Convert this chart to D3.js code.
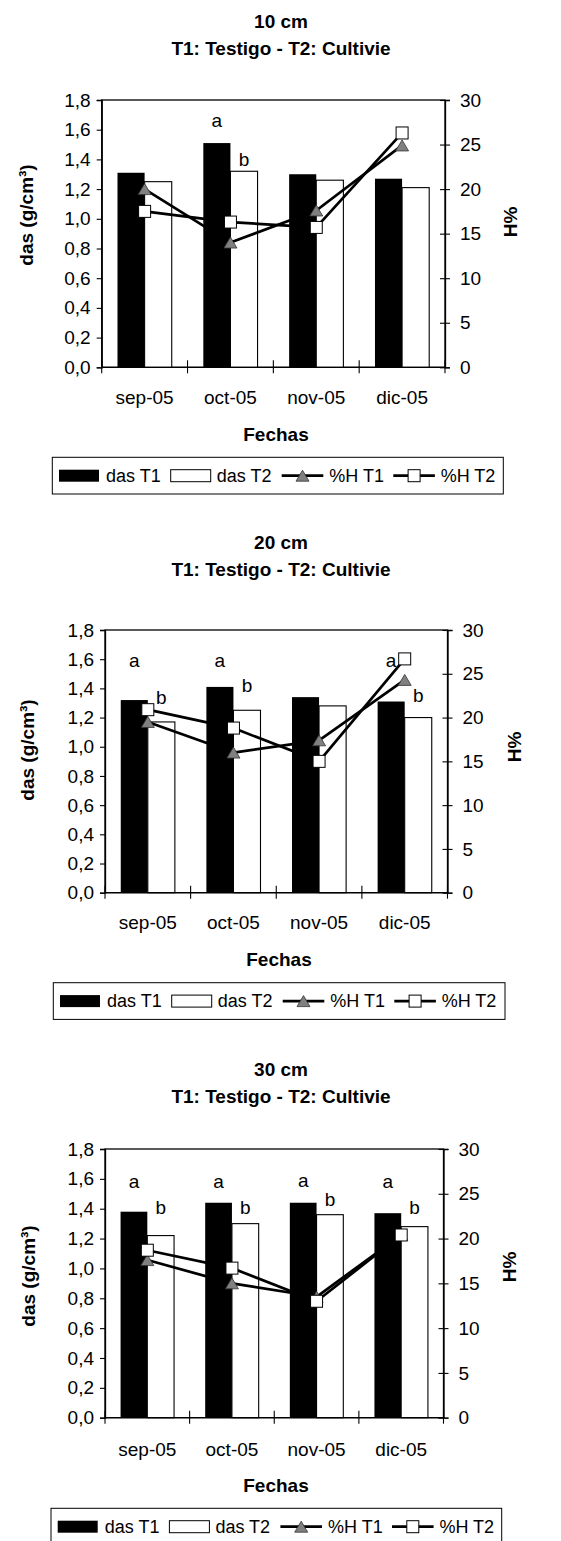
<!DOCTYPE html>
<html><head><meta charset="utf-8">
<script src="https://cdn.jsdelivr.net/npm/d3@7"></script>
<style>
body{margin:0;background:#fff}
svg{display:block}
text{font-family:"Liberation Sans",Arial,sans-serif;fill:#000}
</style>
</head><body>
<svg id="c" width="561" height="1541"></svg>
<script>
// ---------- data ----------
const categories = ["sep-05","oct-05","nov-05","dic-05"];
const seriesNames = ["das T1","das T2","%H T1","%H T2"];
const leftTicks = [0,0.2,0.4,0.6,0.8,1.0,1.2,1.4,1.6,1.8];
const rightTicks = [0,5,10,15,20,25,30];
const titles = ["10 cm","20 cm","30 cm"];
const subtitle = "T1: Testigo - T2: Cultivie";
const xTitle = "Fechas";
const yTitle = "das (g/cm³)";
const y2Title = "H%";

const dasT1_10 = [1.31,1.51,1.30,1.27];
const dasT2_10 = [1.25,1.32,1.26,1.21];
const hT1_10   = [20.0,14.0,17.6,24.9];
const hT2_10   = [17.5,16.3,15.7,26.3];
const letters_10 = [
  {cat:"oct-05", s:0, t:"a", lv:1.66},
  {cat:"oct-05", s:1, t:"b", lv:1.40}
];

const dasT1_20 = [1.32,1.41,1.34,1.31];
const dasT2_20 = [1.17,1.25,1.28,1.20];
const hT1_20   = [19.5,16.0,17.4,24.3];
const hT2_20   = [20.9,18.8,15.0,26.7];
const letters_20 = [
  {cat:"sep-05", s:0, t:"a", lv:1.59},{cat:"sep-05", s:1, t:"b", lv:1.34},
  {cat:"oct-05", s:0, t:"a", lv:1.59},{cat:"oct-05", s:1, t:"b", lv:1.42},
  {cat:"dic-05", s:0, t:"a", lv:1.59},{cat:"dic-05", s:1, t:"b", lv:1.35}
];

const dasT1_30 = [1.38,1.44,1.44,1.37];
const dasT2_30 = [1.22,1.30,1.36,1.28];
const hT1_30   = [17.6,15.0,13.5,20.4];
const hT2_30   = [18.7,16.7,13.0,20.4];
const letters_30 = [
  {cat:"sep-05", s:0, t:"a", lv:1.58},{cat:"sep-05", s:1, t:"b", lv:1.41},
  {cat:"oct-05", s:0, t:"a", lv:1.58},{cat:"oct-05", s:1, t:"b", lv:1.41},
  {cat:"nov-05", s:0, t:"a", lv:1.59},{cat:"nov-05", s:1, t:"b", lv:1.46},
  {cat:"dic-05", s:0, t:"a", lv:1.58},{cat:"dic-05", s:1, t:"b", lv:1.41}
];

// ---------- layout ----------
const layout = [
  {L:101.7,R:445,T:100,B:367.3, titleY:21, subY:48, catY:397.7, fechasX:276, fechasY:434.3,
   legX:52.3, legY:457.3, legW:451, yTX:26, yTY:215, y2TX:510, y2TY:222},
  {L:105,R:447.5,T:630,B:892.7, titleY:542.7, subY:569.3, catY:922.7, fechasX:279, fechasY:959.3,
   legX:53.3, legY:982.7, legW:451.7, yTX:27.5, yTY:750, y2TX:514, y2TY:747},
  {L:105,R:443.5,T:1149,B:1417.7, titleY:1069.3, subY:1096, catY:1449, fechasX:276, fechasY:1485,
   legX:51, legY:1508.3, legW:450.7, yTX:28, yTY:1276, y2TX:509.5, y2TY:1267}
];
const panelData = [
  {bars:[dasT1_10,dasT2_10], lines:[hT1_10,hT2_10], letters:letters_10},
  {bars:[dasT1_20,dasT2_20], lines:[hT1_20,hT2_20], letters:letters_20},
  {bars:[dasT1_30,dasT2_30], lines:[hT1_30,hT2_30], letters:letters_30}
];

const svg = d3.select("#c");
const fmt = d => d3.format(".1f")(d).replace(".", ",");
const triPath = "M0,-6L6.5,5L-6.5,5Z";
const triFill = "#808080";
const FS = 19;

function marker(g, type, x, y){
  if(type===0){
    g.append("path").attr("d",triPath).attr("transform",`translate(${x},${y+0.5})`)
      .attr("fill",triFill).attr("stroke","#333").attr("stroke-width",0.8);
  } else {
    g.append("rect").attr("x",x-6).attr("y",y-6).attr("width",12).attr("height",12)
      .attr("fill","#fff").attr("stroke","#000").attr("stroke-width",1);
  }
}

layout.forEach((lo, pi) => {
  const pd = panelData[pi];
  const g = svg.append("g");
  const x = d3.scaleBand().domain(categories).range([lo.L, lo.R]).padding(0);
  const yL = d3.scaleLinear().domain([0,1.8]).range([lo.B, lo.T]);
  const yR = d3.scaleLinear().domain([0,30]).range([lo.B, lo.T]);
  const bw = x.bandwidth()*0.316;
  const cx = c => x(c) + x.bandwidth()/2;

  // titles
  g.append("text").attr("x",281).attr("y",lo.titleY).attr("text-anchor","middle")
    .attr("dominant-baseline","central").attr("font-size",19).attr("font-weight","bold").text(titles[pi]);
  g.append("text").attr("x",281).attr("y",lo.subY).attr("text-anchor","middle")
    .attr("dominant-baseline","central").attr("font-size",19).attr("font-weight","bold").text(subtitle);

  // plot frame
  g.append("rect").attr("x",lo.L).attr("y",lo.T).attr("width",lo.R-lo.L).attr("height",lo.B-lo.T)
    .attr("fill","#fff").attr("stroke","#000").attr("stroke-width",1.3);

  // bars
  pd.bars.forEach((vals, si) => {
    g.append("g").selectAll("rect").data(categories).join("rect")
      .attr("x", c => cx(c) - bw + si*bw)
      .attr("y", (c,i) => yL(vals[i]))
      .attr("width", bw)
      .attr("height", (c,i) => yL(0) - yL(vals[i]))
      .attr("fill", si===0 ? "#000" : "#fff")
      .attr("stroke", "#000").attr("stroke-width", si===0 ? 0 : 1.1);
  });

  // left axis
  const ax = g.append("g").attr("transform",`translate(${lo.L},0)`)
    .call(d3.axisLeft(yL).tickValues(leftTicks).tickSize(5).tickPadding(6).tickFormat(fmt));
  ax.select(".domain").attr("stroke-width",1.3);
  ax.selectAll("text").attr("font-size",FS).attr("font-family","Liberation Sans, Arial, sans-serif");
  ax.selectAll("line").attr("stroke-width",1.1);

  // right axis
  const ax2 = g.append("g").attr("transform",`translate(${lo.R},0)`)
    .call(d3.axisRight(yR).tickValues(rightTicks).tickSize(5).tickPadding(10));
  ax2.select(".domain").attr("stroke-width",1.3);
  ax2.selectAll("line").attr("x1",-5).attr("stroke-width",1.1);
  ax2.selectAll("text").attr("font-size",FS).attr("font-family","Liberation Sans, Arial, sans-serif");

  // x axis: baseline, boundary ticks, labels
  g.append("line").attr("x1",lo.L).attr("x2",lo.R).attr("y1",lo.B).attr("y2",lo.B)
    .attr("stroke","#000").attr("stroke-width",1.3);
  const bounds = categories.map(c => x(c)).concat([lo.R]);
  g.append("g").selectAll("line").data(bounds).join("line")
    .attr("x1",d=>d).attr("x2",d=>d).attr("y1",lo.B-7).attr("y2",lo.B+6)
    .attr("stroke","#000").attr("stroke-width",1.1);
  g.append("g").selectAll("text").data(categories).join("text")
    .attr("x", c => cx(c)).attr("y", lo.catY).attr("text-anchor","middle")
    .attr("dominant-baseline","central").attr("font-size",FS).text(c=>c);

  // lines + markers
  pd.lines.forEach((vals, si) => {
    const line = d3.line().x((d,i)=>cx(categories[i])).y(d=>yR(d));
    g.append("path").attr("d", line(vals)).attr("fill","none")
      .attr("stroke","#000").attr("stroke-width",2.7).attr("stroke-linejoin","round");
    const mg = g.append("g");
    vals.forEach((v,i) => marker(mg, si, cx(categories[i]), yR(v)));
  });

  // letters
  g.append("g").selectAll("text").data(pd.letters).join("text")
    .attr("x", d => cx(d.cat) - bw/2 + d.s*bw)
    .attr("y", d => yL(d.lv))
    .attr("text-anchor","middle").attr("dominant-baseline","central").attr("font-size",FS)
    .text(d=>d.t);

  // axis titles
  g.append("text").attr("transform",`translate(${lo.yTX},${lo.yTY}) rotate(-90)`)
    .attr("text-anchor","middle").attr("dominant-baseline","central")
    .attr("font-size",19).attr("font-weight","bold").text(yTitle);
  g.append("text").attr("transform",`translate(${lo.y2TX},${lo.y2TY}) rotate(-90)`)
    .attr("text-anchor","middle").attr("dominant-baseline","central")
    .attr("font-size",19).attr("font-weight","bold").text(y2Title);
  g.append("text").attr("x",lo.fechasX).attr("y",lo.fechasY).attr("text-anchor","middle")
    .attr("dominant-baseline","central").attr("font-size",19).attr("font-weight","bold").text(xTitle);

  // legend
  const lg = g.append("g").attr("transform",`translate(${lo.legX},${lo.legY})`);
  lg.append("rect").attr("x",0).attr("y",0).attr("width",lo.legW).attr("height",36.7)
    .attr("fill","#fff").attr("stroke","#000").attr("stroke-width",1);
  const ly = 18.4;
  const itemX = [6.7, 118.4, 229.4, 341];
  const textX = [53.7, 164.4, 277, 388.4];
  seriesNames.forEach((n, i) => {
    if(i < 2){
      lg.append("rect").attr("x",itemX[i]).attr("y",ly-6).attr("width",40).attr("height",12)
        .attr("fill", i===0 ? "#000" : "#fff").attr("stroke","#000").attr("stroke-width", i===0?0:1);
    } else {
      lg.append("line").attr("x1",itemX[i]).attr("x2",itemX[i]+41.6).attr("y1",ly).attr("y2",ly)
        .attr("stroke","#000").attr("stroke-width",2.7);
      marker(lg, i-2, itemX[i]+20.8, ly);
    }
    lg.append("text").attr("x",textX[i]).attr("y",ly).attr("dominant-baseline","central")
      .attr("font-size",18).text(n);
  });
});
</script>
</body></html>
